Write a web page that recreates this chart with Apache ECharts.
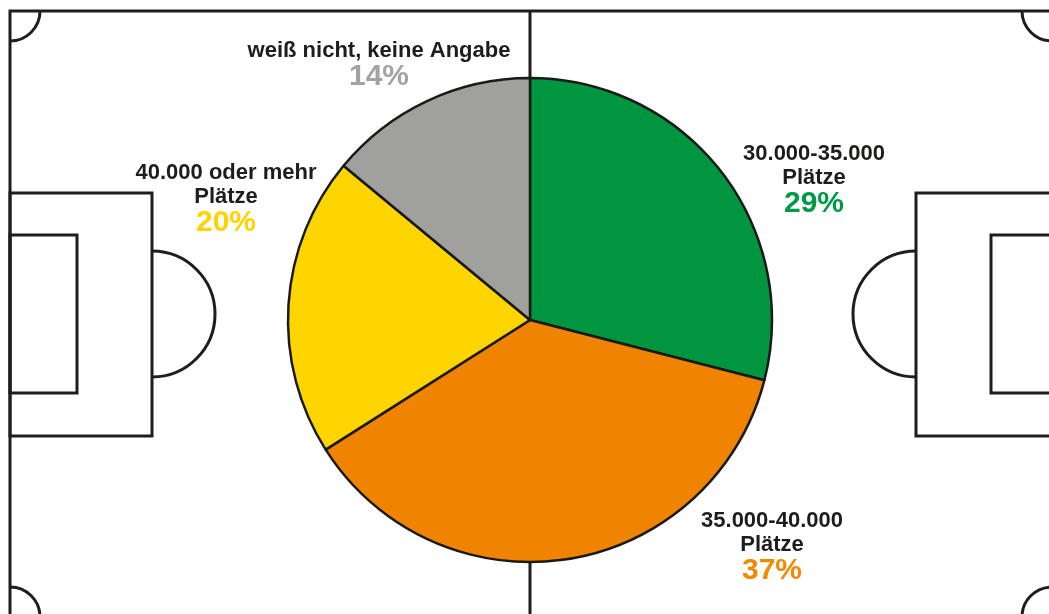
<!DOCTYPE html>
<html>
<head>
<meta charset="utf-8">
<script src="https://cdn.jsdelivr.net/npm/echarts@6/dist/echarts.min.js"></script>
<style>
  html, body { margin: 0; padding: 0; background: #fff; }
  #chart { width: 1049px; height: 614px; }
</style>
</head>
<body>
<div id="chart"></div>
<script>
// data
var categories = ['30.000-35.000\nPlätze', '35.000-40.000\nPlätze', '40.000 oder mehr\nPlätze', 'weiß nicht, keine Angabe']
var values = [29, 37, 20, 14]
var sliceColors = ['#009640', '#f08400', '#ffd500', '#a0a09f']
var pctColors = ['#009a44', '#f28a00', '#ffd200', '#a3a3a3']

// where the labels sit (label centres)
var labelPos = [
  { x: 814, y: 180 },
  { x: 772, y: 547 },
  { x: 226, y: 199 },
  { x: 379, y: 65 }
]

var lineCol = '#1e1e1e'
var lw = 3

function fieldLines() {
  var L = 10, T = 11, R = 1052, B = 617, CX = 530, CY = 314
  var st = { stroke: lineCol, lineWidth: lw, fill: null }
  var els = [
    { type: 'rect', shape: { x: L, y: T, width: R - L, height: B - T }, style: st },
    { type: 'line', shape: { x1: CX, y1: T, x2: CX, y2: B }, style: st },
    // left
    { type: 'rect', shape: { x: L, y: 193, width: 142, height: 243 }, style: st },
    { type: 'rect', shape: { x: L, y: 235, width: 67, height: 158 }, style: st },
    { type: 'arc', shape: { cx: 152, cy: CY, r: 63, startAngle: -Math.PI / 2, endAngle: Math.PI / 2, clockwise: true }, style: st },
    // right
    { type: 'rect', shape: { x: 916, y: 193, width: R - 916, height: 243 }, style: st },
    { type: 'rect', shape: { x: 991, y: 235, width: R - 991, height: 158 }, style: st },
    { type: 'arc', shape: { cx: 916, cy: CY, r: 63, startAngle: Math.PI / 2, endAngle: Math.PI * 1.5, clockwise: true }, style: st },
    // corners
    { type: 'arc', shape: { cx: L, cy: T, r: 30, startAngle: 0, endAngle: Math.PI / 2, clockwise: true }, style: st },
    { type: 'arc', shape: { cx: R, cy: T, r: 30, startAngle: Math.PI / 2, endAngle: Math.PI, clockwise: true }, style: st },
    { type: 'arc', shape: { cx: L, cy: B, r: 30, startAngle: -Math.PI / 2, endAngle: 0, clockwise: true }, style: st },
    { type: 'arc', shape: { cx: R, cy: B, r: 30, startAngle: Math.PI, endAngle: Math.PI * 1.5, clockwise: true }, style: st }
  ]
  els.forEach(function (e) { e.silent = true; e.z = -10 })
  return els
}

var pctStyle = function (c) {
  return { fontSize: 30, fontWeight: 'bold', color: c, lineHeight: 28, align: 'center', fontFamily: 'Liberation Sans' }
}

var chart = echarts.init(document.getElementById('chart'))
chart.setOption({
  animation: false,
  backgroundColor: '#fff',
  graphic: fieldLines(),
  series: [
    {
      type: 'pie',
      center: [530, 320],
      radius: [0, 242],
      startAngle: 90,
      clockwise: true,
      z: 5,
      itemStyle: { borderColor: '#1a1a1a', borderWidth: 2.5 },
      labelLine: { show: false },
      label: {
        show: true,
        position: 'outside',
        align: 'center',
        verticalAlign: 'middle',
        fontFamily: 'Liberation Sans, Arial, sans-serif',
        formatter: function (p) {
          return '{t|' + p.name.split('\n').join('}\n{t|') + '}\n{p' + p.dataIndex + '|' + p.value + '%}'
        },
        rich: {
          t: { fontSize: 22, fontWeight: 'bold', color: '#1d1d1b', lineHeight: 24, align: 'center', fontFamily: 'Liberation Sans' },
          p0: pctStyle(pctColors[0]),
          p1: pctStyle(pctColors[1]),
          p2: pctStyle(pctColors[2]),
          p3: pctStyle(pctColors[3])
        }
      },
      labelLayout: function (params) {
        var p = labelPos[params.dataIndex]
        return { x: p.x, y: p.y, align: 'center', verticalAlign: 'middle' }
      },
      data: values.map(function (v, i) {
        return { name: categories[i], value: v, itemStyle: { color: sliceColors[i] } }
      })
    }
  ]
})
</script>
</body>
</html>
